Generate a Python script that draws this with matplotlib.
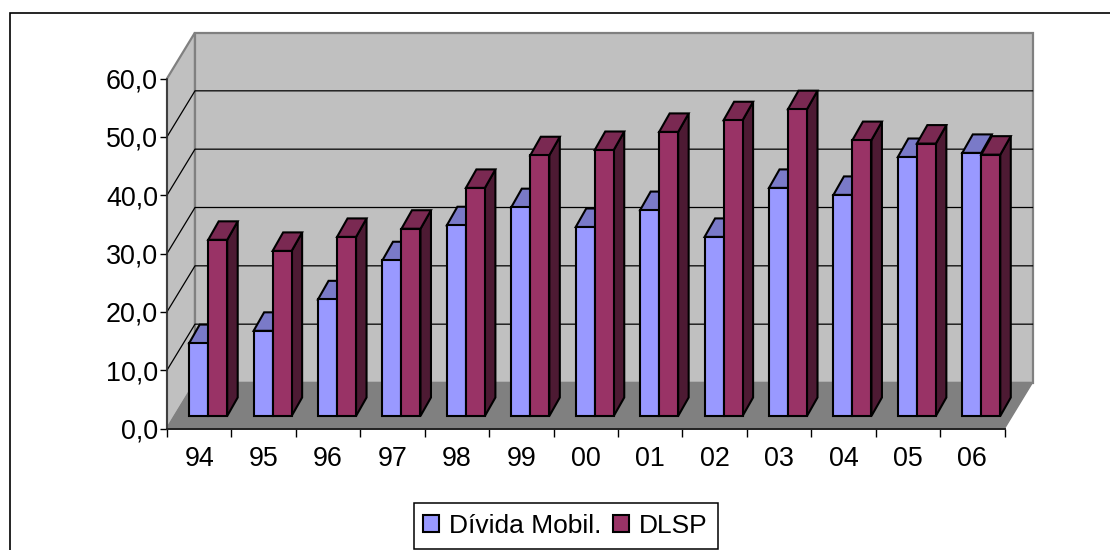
import matplotlib
matplotlib.use("Agg")
import matplotlib.pyplot as plt
from matplotlib.patches import Polygon, Patch, Rectangle

plt.rcParams['font.family'] = ['Liberation Sans', 'DejaVu Sans']

years = ['94', '95', '96', '97', '98', '99', '00', '01', '02', '03', '04', '05', '06']
divida = [12.5, 14.6, 20.0, 26.7, 32.7, 35.8, 32.4, 35.3, 30.7, 39.1, 37.9, 44.4, 45.1]
dlsp = [30.2, 28.3, 30.7, 32.1, 39.1, 44.7, 45.6, 48.7, 50.7, 52.6, 47.3, 46.7, 44.8]
yticks = [0, 10, 20, 30, 40, 50, 60]
yticklabels = ['0,0', '10,0', '20,0', '30,0', '40,0', '50,0', '60,0']

W, H = 1110, 550
fig = plt.figure(figsize=(W / 100, H / 100), dpi=100)

# plot box in pixels, axes units are categories and percent
left, right, top, bottom = 167.0, 1004.5, 78.5, 428.5
ax = fig.add_axes([left / W, 1 - bottom / H, (right - left) / W, (bottom - top) / H])
ax.set_xlim(0, len(years))
ax.set_ylim(0, 60)
ax.patch.set_visible(False)

px = len(years) / (right - left)
py = 60 / (bottom - top)

# depth of the floor and of the columns
wall_dx, wall_dy = 28 * px, 46 * py
bar_x0, bar_y0 = 7.6 * px, 12.5 * py
bar_dx, bar_dy = 10.5 * px, 18.5 * py
bar_w = 19 * px
pad = 14.6 * px

def poly(pts, fc, ec='none', lw=0, z=1):
    ax.add_patch(Polygon(pts, closed=True, facecolor=fc, edgecolor=ec, linewidth=lw,
                         zorder=z, clip_on=False, joinstyle='miter'))

# walls and floor
n = len(years)
poly([(0, 0), (wall_dx, wall_dy), (wall_dx, 60 + wall_dy), (0, 60)], '#C0C0C0', '#808080', 1.6, 1)
poly([(wall_dx, wall_dy), (n + wall_dx, wall_dy), (n + wall_dx, 60 + wall_dy), (wall_dx, 60 + wall_dy)],
     '#C0C0C0', '#808080', 1.6, 1)
poly([(0, 0), (wall_dx, wall_dy), (n + wall_dx, wall_dy), (n, 0)], '#808080', '#808080', 1, 2)

# gridlines along both walls
for v in yticks[1:-1]:
    ax.plot([0, wall_dx, n + wall_dx], [v, v + wall_dy, v + wall_dy], color='black', lw=0.9,
            zorder=1.5, clip_on=False)

def column(x0, value, front, side, roof, z):
    base = bar_y0
    ax.bar(x0, value, bar_w, bottom=base, align='edge', color=front, edgecolor='black',
           linewidth=1.5, zorder=z + 0.2, clip_on=False)
    x1 = x0 + bar_w
    t = base + value
    poly([(x1, base), (x1 + bar_dx, base + bar_dy), (x1 + bar_dx, t + bar_dy), (x1, t)],
         side, 'black', 1.5, z)
    poly([(x0, t), (x0 + bar_dx, t + bar_dy), (x1 + bar_dx, t + bar_dy), (x1, t)],
         roof, 'black', 1.5, z + 0.1)

for i in range(n):
    x0 = i + bar_x0 + pad
    z = 3 + i
    column(x0, divida[i], '#9999FF', '#4D4D80', '#7A7AC8', z)
    column(x0 + bar_w, dlsp[i], '#993366', '#4D1A33', '#7A2952', z + 0.5)

# axes and ticks
for name in ['top', 'right']:
    ax.spines[name].set_visible(False)
ax.spines['left'].set_color('#333333')
ax.spines['bottom'].set_color('#222222')
ax.spines['left'].set_linewidth(1.2)
ax.spines['bottom'].set_linewidth(1.4)
ax.spines['left'].set_zorder(30)
ax.spines['bottom'].set_zorder(30)
ax.set_yticks(yticks)
ax.set_yticklabels(yticklabels, fontsize=19.4)
ax.set_xticks(range(n + 1))
ax.set_xticklabels([])
ax.set_xticks([i + 0.5 for i in range(n)], labels=years, minor=True, fontsize=19.4)
ax.tick_params(axis='y', length=5, width=1, pad=1.5)
ax.tick_params(axis='x', which='major', length=5.5, width=1)
ax.tick_params(axis='x', which='minor', length=0, pad=12.5)

# legend box drawn on its own, the padding is wider above than at the sides
fig.add_artist(Rectangle((413.5 / W, 1 - 549 / H), 304.5 / W, 46 / H, transform=fig.transFigure,
                         facecolor='white', edgecolor='black', linewidth=1.1))
handles = [Patch(facecolor='#9999FF', edgecolor='black', linewidth=1.5, label='Dívida Mobil.'),
           Patch(facecolor='#993366', edgecolor='black', linewidth=1.5, label='DLSP')]
leg = fig.legend(handles=handles, ncol=2, loc='center', bbox_to_anchor=(565.5 / W, 1 - 526 / H),
                 fontsize=19, frameon=False,
                 handlelength=0.62, handleheight=0.62, handletextpad=0.38, columnspacing=0.42,
                 borderpad=0, borderaxespad=0)

# chart area outline, open on the right and running off the bottom
fig.add_artist(Rectangle((9.5 / W, 1 - 570 / H), 1130 / W, 557.5 / H, transform=fig.transFigure,
                         fill=False, edgecolor='black', linewidth=1.2, zorder=-1))

fig.savefig('out.png', dpi=100)
plt.close(fig)
